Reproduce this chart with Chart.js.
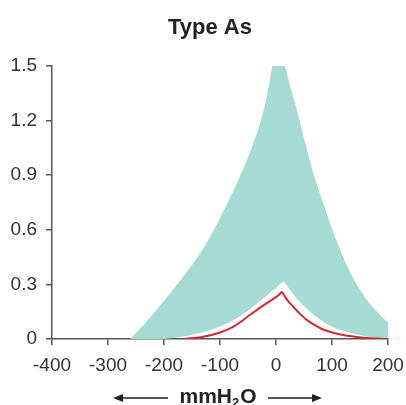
<!DOCTYPE html>
<html>
<head>
<meta charset="utf-8">
<script src="https://cdn.jsdelivr.net/npm/chart.js@4/dist/chart.umd.min.js"></script>
<style>
  html, body { margin: 0; padding: 0; background: #ffffff; }
  #wrap { width: 406px; height: 405px; position: relative; }
</style>
</head>
<body>
<div id="wrap"><canvas id="c" width="406" height="405"></canvas></div>
<script>
// ---- Data ----
const chartTitle = "Type As";
const xAxisTitle = ["mmH", "2", "O"];
const xMin = -400, xMax = 200, xStep = 100;
const yMin = 0, yMax = 1.5, yStep = 0.3;

// Upper boundary of the normal (teal) band
const upperX = [-260, -230, -200, -170, -140, -115, -90, -70, -55, -40, -28, -18, -10, -4, 1, 8, 16, 25, 40, 52, 65, 84, 105, 131, 150, 167, 185, 200];
const upperY = [0, 0.1, 0.21, 0.325, 0.45, 0.575, 0.725, 0.855, 0.96, 1.08, 1.19, 1.31, 1.44, 1.56, 1.66, 1.588, 1.5, 1.395, 1.225, 1.08, 0.93, 0.75, 0.565, 0.375, 0.272, 0.195, 0.135, 0.09];

// Lower boundary of the teal band
const lowerX = [-260, -204, -180, -160, -140, -120, -100, -80, -60, -40, -20, 0, 14, 18, 25, 37, 50, 61, 72, 85, 101, 121, 143, 170, 200];
const lowerY = [0, 0, 0.007, 0.017, 0.03, 0.047, 0.068, 0.097, 0.135, 0.18, 0.23, 0.28, 0.315, 0.3, 0.27, 0.222, 0.18, 0.15, 0.122, 0.094, 0.066, 0.044, 0.025, 0.01, 0];

// Red (Type As) curve
const redX = [-162, -130, -100, -75, -46, -20, 0, 6, 10, 14, 20, 30, 43, 55, 67, 84, 100, 120, 140, 161, 185, 200];
const redY = [0, 0.012, 0.036, 0.07, 0.133, 0.19, 0.23, 0.245, 0.258, 0.243, 0.215, 0.18, 0.138, 0.105, 0.08, 0.052, 0.036, 0.022, 0.013, 0.006, 0.002, 0];

const toPts = (xs, ys) => xs.map((x, i) => ({ x: x, y: ys[i] }));

const FONT = '"Liberation Sans", Arial, Helvetica, sans-serif';
const AXIS = '#555555';

const decorPlugin = {
  id: 'decor',
  afterDraw(chart) {
    const ctx = chart.ctx;
    ctx.save();
    // Title
    ctx.fillStyle = '#222222';
    ctx.font = 'bold 22px ' + FONT;
    ctx.textAlign = 'center';
    ctx.textBaseline = 'alphabetic';
    ctx.fillText(chartTitle, 210, 34);

    // X axis title with subscript
    const big = 'bold 21px ' + FONT, small = 'bold 13px ' + FONT;
    ctx.font = big; const w1 = ctx.measureText(xAxisTitle[0]).width;
    ctx.font = small; const w2 = ctx.measureText(xAxisTitle[1]).width;
    ctx.font = big; const w3 = ctx.measureText(xAxisTitle[2]).width;
    const total = w1 + w2 + w3 + 1;
    let x = 218 - total / 2;
    const base = 403;
    ctx.textAlign = 'left';
    ctx.font = big; ctx.fillText(xAxisTitle[0], x, base); x += w1;
    ctx.font = small; ctx.fillText(xAxisTitle[1], x, base + 4); x += w2 + 1;
    ctx.font = big; ctx.fillText(xAxisTitle[2], x, base);

    // Arrows
    const ay = 398;
    ctx.strokeStyle = '#222222';
    ctx.lineWidth = 1.5;
    ctx.beginPath();
    ctx.moveTo(168, ay); ctx.lineTo(120, ay);
    ctx.moveTo(268, ay); ctx.lineTo(315, ay);
    ctx.stroke();
    ctx.beginPath();
    ctx.moveTo(113, ay); ctx.lineTo(123, ay - 4); ctx.lineTo(123, ay + 4); ctx.closePath();
    ctx.moveTo(322, ay); ctx.lineTo(312, ay - 4); ctx.lineTo(312, ay + 4); ctx.closePath();
    ctx.fill();
    ctx.restore();
  }
};

new Chart(document.getElementById('c'), {
  type: 'line',
  data: {
    datasets: [
      {
        label: 'Type As',
        data: toPts(redX, redY),
        borderColor: '#d9262e',
        borderWidth: 2,
        pointRadius: 0,
        cubicInterpolationMode: 'monotone',
        fill: false
      },
      {
        label: 'Normal upper',
        data: toPts(upperX, upperY),
        borderWidth: 0,
        borderColor: 'rgba(0,0,0,0)',
        backgroundColor: '#a6dbd4',
        pointRadius: 0,
        cubicInterpolationMode: 'monotone',
        fill: '+1'
      },
      {
        label: 'Normal lower',
        data: toPts(lowerX, lowerY),
        borderWidth: 0,
        borderColor: 'rgba(0,0,0,0)',
        pointRadius: 0,
        cubicInterpolationMode: 'monotone',
        fill: false
      }
    ]
  },
  options: {
    responsive: false,
    animation: false,
    devicePixelRatio: 1,
    layout: { padding: { top: 66, right: 18, bottom: 0, left: 0 } },
    plugins: { legend: { display: false }, title: { display: false }, tooltip: { enabled: false } },
    scales: {
      x: {
        type: 'linear',
        min: xMin, max: xMax,
        afterFit(s) { s.height = 66; s.paddingLeft = 0; s.paddingRight = 0; },
        ticks: {
          stepSize: xStep,
          color: '#333333',
          font: { family: FONT, size: 19 },
          padding: 9,
          maxRotation: 0,
          callback: v => String(v)
        },
        grid: { drawOnChartArea: false, drawTicks: true, tickLength: 6, color: AXIS, lineWidth: 1.5 },
        border: { display: true, color: AXIS, width: 1.5 }
      },
      y: {
        type: 'linear',
        min: yMin, max: yMax,
        afterFit(s) { s.width = 52; s.paddingTop = 0; s.paddingBottom = 0; },
        ticks: {
          stepSize: yStep,
          color: '#333333',
          font: { family: FONT, size: 19 },
          padding: 9,
          callback: v => (Math.abs(v) < 1e-9 ? '0' : (Math.round(v * 10) / 10).toFixed(1))
        },
        grid: { drawOnChartArea: false, drawTicks: true, tickLength: 6, color: AXIS, lineWidth: 1.5 },
        border: { display: true, color: AXIS, width: 1.5 }
      }
    }
  },
  plugins: [decorPlugin]
});
</script>
</body>
</html>
